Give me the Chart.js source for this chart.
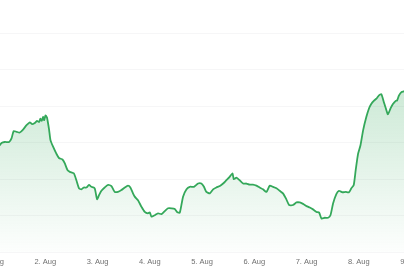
<!DOCTYPE html>
<html>
<head>
<meta charset="utf-8">
<script src="https://cdn.jsdelivr.net/npm/chart.js@4/dist/chart.umd.min.js"></script>
<style>
  html, body { margin: 0; padding: 0; background: #ffffff; }
  #wrap { position: absolute; left: 0; top: 0; width: 404px; height: 270px; overflow: hidden; background: #ffffff; }
  #c { position: absolute; left: -27px; top: -13px; }
</style>
</head>
<body>
<div id="wrap"><canvas id="c" width="458" height="284"></canvas></div>
<script>
// Hours since 1. Aug 00:00
const hours = [
  1.0, 3.1, 3.9, 5.4, 7.4, 8.5, 9.5, 10.8, 12.3, 13.8, 15.4, 16.9, 17.9, 19.2, 20.2, 21.2, 21.8, 22.4, 23.0, 23.5,
  24.1, 24.8, 25.8, 26.4, 27.6, 29.1, 30.3, 31.9, 33.0, 34.2, 35.3, 37.1, 38.3, 39.5, 40.6, 41.7, 42.9, 44.1, 45.2, 46.7,
  47.8, 48.7, 49.8, 51.3, 52.9, 54.4, 55.9, 57.4, 59.0, 60.5, 62.0, 63.1, 64.3, 65.1, 66.6, 68.2, 69.7, 71.2, 72.0, 72.8,
  74.3, 75.8, 77.4, 78.9, 80.4, 82.0, 83.5, 84.7, 85.8, 87.3, 88.9, 90.4, 92.3, 94.2, 95.7, 96.9, 98.0, 99.6, 101.1, 102.6,
  104.2, 105.7, 107.2, 108.7, 110.0, 110.6, 111.8, 113.3, 114.9, 116.4, 117.9, 119.4, 121.0, 122.5, 124.0, 125.6, 127.1, 128.6, 130.2, 131.7,
  133.2, 134.8, 136.0, 137.8, 139.4, 140.9, 142.4, 144.0, 145.5, 147.0, 148.6, 149.8, 150.9, 152.4, 153.9, 155.0, 156.2, 157.7, 158.9, 160.5,
  162.0, 163.5, 164.6, 165.7, 166.6, 167.7, 168.8, 170.0, 171.5, 172.7, 173.8, 174.9, 176.1, 177.3, 178.4, 179.5, 180.7, 181.4, 182.6, 183.7,
  185.0, 185.6, 186.5, 187.6, 188.7, 190.0
];
const values = [
  29.0, 29.3, 29.9, 30.2, 30.2, 31.2, 33.2, 33.0, 32.8, 33.6, 34.8, 35.6, 35.1, 35.4, 36.0, 35.7, 36.6, 36.0, 37.1, 36.2,
  37.5, 36.9, 33.4, 30.7, 28.9, 27.0, 25.8, 25.4, 24.3, 22.5, 22.0, 21.6, 19.7, 17.5, 17.2, 17.7, 17.7, 18.4, 17.9, 17.5,
  14.5, 15.6, 16.8, 17.7, 18.4, 18.1, 16.5, 16.5, 17.0, 17.7, 18.2, 17.7, 16.1, 15.2, 14.2, 12.4, 11.0, 10.6, 10.9, 9.7,
  10.1, 10.6, 10.4, 11.2, 12.0, 12.0, 11.8, 10.9, 10.8, 15.2, 17.2, 17.9, 17.9, 18.8, 18.8, 17.9, 16.5, 16.1, 17.2, 17.7,
  18.1, 18.8, 19.7, 20.6, 21.6, 20.0, 20.4, 19.7, 18.8, 18.8, 18.5, 18.5, 18.2, 17.7, 17.2, 16.5, 18.2, 17.9, 17.5, 16.8,
  16.1, 14.4, 12.9, 12.9, 13.6, 13.6, 13.2, 12.6, 12.2, 11.7, 11.0, 10.8, 9.2, 9.4, 9.4, 10.1, 13.3, 15.9, 16.8, 16.4,
  16.5, 16.4, 17.5, 18.4, 22.5, 27.0, 29.3, 33.4, 37.1, 39.4, 40.7, 41.5, 42.1, 43.0, 43.3, 41.2, 38.9, 37.8, 39.4, 40.6,
  41.5, 41.6, 43.0, 43.9, 44.1, 44.4
];
const dayLabels = ['1. Aug', '2. Aug', '3. Aug', '4. Aug', '5. Aug', '6. Aug', '7. Aug', '8. Aug', '9. Aug'];

const points = hours.map((h, i) => ({ x: h, y: values[i] }));

new Chart(document.getElementById('c'), {
  type: 'line',
  data: {
    datasets: [{
      data: points,
      borderColor: 'rgb(52,168,90)',
      borderWidth: 1.8,
      pointRadius: 0,
      tension: 0.2,
      fill: 'origin',
      backgroundColor: (ctx) => {
        const { chart } = ctx;
        const area = chart.chartArea;
        if (!area) return 'rgba(52,168,90,0.15)';
        const g = chart.ctx.createLinearGradient(0, area.top, 0, area.bottom);
        g.addColorStop(0, 'rgba(52,168,90,0.38)');
        g.addColorStop(1, 'rgba(52,168,90,0.01)');
        return g;
      }
    }]
  },
  options: {
    responsive: false,
    animation: false,
    layout: { padding: { left: 20, right: 20, top: 10, bottom: 0 } },
    plugins: { legend: { display: false }, tooltip: { enabled: false } },
    scales: {
      x: {
        type: 'linear',
        min: 0,
        max: 192,
        grid: { display: false, drawTicks: false },
        border: { display: false },
        ticks: {
          stepSize: 24,
          autoSkip: false,
          maxRotation: 0,
          padding: 5,
          color: '#707070',
          font: { family: '"Liberation Sans", Arial, sans-serif', size: 7.5 },
          callback: (v) => dayLabels[Math.round(v / 24)] ?? ''
        }
      },
      y: {
        min: 0,
        max: 70,
        grid: { color: 'rgba(0,0,40,0.035)', drawTicks: false, lineWidth: 1 },
        border: { display: false },
        ticks: { display: false, stepSize: 10 }
      }
    }
  }
});
</script>
</body>
</html>
